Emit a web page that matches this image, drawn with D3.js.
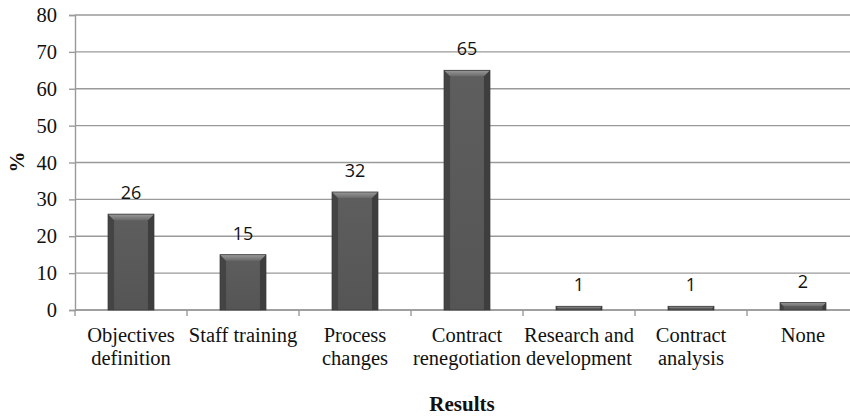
<!DOCTYPE html>
<html>
<head>
<meta charset="utf-8">
<script src="https://cdn.jsdelivr.net/npm/d3@7"></script>
<style>
  html, body { margin: 0; padding: 0; background: #fff; }
  svg { display: block; }
  .serif { font-family: "Liberation Serif", "Times New Roman", "DejaVu Serif", serif; }
  .sans { font-family: "Open Sans", "Liberation Sans", sans-serif; }
</style>
</head>
<body>
<svg id="chart" width="850" height="417"></svg>
<script>
// Results of the survey, share of respondents (%)
const categories = [
  ["Objectives", "definition"],
  ["Staff training"],
  ["Process", "changes"],
  ["Contract", "renegotiation"],
  ["Research and", "development"],
  ["Contract", "analysis"],
  ["None"]
];
const values = [26, 15, 32, 65, 1, 1, 2];
const yTicks = [0, 10, 20, 30, 40, 50, 60, 70, 80];

const svg = d3.select("#chart");
const plotLeft = 75, plotRight = 859, plotTop = 15, plotBottom = 310;

const x = d3.scaleBand()
  .domain(d3.range(categories.length))
  .range([plotLeft, plotRight])
  .paddingInner(0.59)
  .paddingOuter(0.295);
const band = d3.scaleBand().domain(d3.range(categories.length)).range([plotLeft, plotRight]);
const y = d3.scaleLinear().domain([0, 80]).range([plotBottom, plotTop]);

const defs = svg.append("defs");
const face = defs.append("linearGradient").attr("id", "barFace").attr("x1", 0).attr("x2", 0).attr("y1", 0).attr("y2", 1);
face.append("stop").attr("offset", "0%").attr("stop-color", "#5e5e5e");
face.append("stop").attr("offset", "100%").attr("stop-color", "#555555");
const topBevel = defs.append("linearGradient").attr("id", "barTop").attr("x1", 0).attr("x2", 0).attr("y1", 0).attr("y2", 1);
topBevel.append("stop").attr("offset", "0%").attr("stop-color", "#9a9a9a");
topBevel.append("stop").attr("offset", "100%").attr("stop-color", "#6a6a6a");

const gridColor = "#9a9a9a";

// horizontal gridlines
svg.append("g").selectAll("line").data(yTicks).join("line")
  .attr("x1", plotLeft).attr("x2", 850)
  .attr("y1", d => y(d)).attr("y2", d => y(d))
  .attr("stroke", gridColor).attr("stroke-width", 1.4);

// y axis
const yAxis = svg.append("g").attr("transform", `translate(${plotLeft},0)`)
  .call(d3.axisLeft(y).tickValues(yTicks).tickSize(6).tickPadding(12));
yAxis.attr("font-family", null).attr("font-size", null);
yAxis.select(".domain").attr("stroke", gridColor).attr("stroke-width", 1.4);
yAxis.selectAll(".tick line").attr("stroke", gridColor).attr("stroke-width", 1.4);
yAxis.selectAll(".tick text")
  .attr("class", "serif")
  .style("font-size", "20.5px").attr("fill", "#111");

// x axis with ticks on band boundaries
const xAxis = svg.append("g").attr("transform", `translate(0,${plotBottom})`);
xAxis.append("line").attr("x1", plotLeft).attr("x2", 850).attr("stroke", gridColor).attr("stroke-width", 1.4);
const boundaries = d3.range(categories.length + 1).map(i => i < categories.length ? band(i) : plotRight);
xAxis.selectAll("line.tick").data(boundaries).join("line").attr("class", "tick")
  .attr("x1", d => d).attr("x2", d => d).attr("y1", 0).attr("y2", 6)
  .attr("stroke", gridColor).attr("stroke-width", 1.4);

// category labels
const labels = svg.append("g").attr("class", "serif")
  .style("font-size", "20.5px").attr("fill", "#111").attr("text-anchor", "middle");
categories.forEach((lines, i) => {
  const cx = band(i) + band.bandwidth() / 2;
  const t = labels.append("text").attr("x", cx).attr("y", 342);
  lines.forEach((ln, j) => t.append("tspan").attr("x", cx).attr("dy", j === 0 ? 0 : 23).text(ln));
});

// bars with a bevelled look
const bars = svg.append("g");
values.forEach((v, i) => {
  const x0 = x(i), w = x.bandwidth(), y0 = y(v), h = plotBottom - y0;
  const b = Math.min(6, h / 2, w / 2);
  const grp = bars.append("g");
  grp.append("rect").attr("x", x0).attr("y", y0).attr("width", w).attr("height", h).attr("fill", "url(#barFace)");
  // left and right bevels
  grp.append("polygon")
    .attr("points", [[x0, y0], [x0 + b, y0 + b], [x0 + b, plotBottom], [x0, plotBottom]].join(" "))
    .attr("fill", "#444");
  grp.append("polygon")
    .attr("points", [[x0 + w, y0], [x0 + w - b, y0 + b], [x0 + w - b, plotBottom], [x0 + w, plotBottom]].join(" "))
    .attr("fill", "#3e3e3e");
  // top bevel
  grp.append("polygon")
    .attr("points", [[x0, y0], [x0 + w, y0], [x0 + w - b, y0 + b], [x0 + b, y0 + b]].join(" "))
    .attr("fill", "url(#barTop)");
  grp.append("rect").attr("x", x0).attr("y", y0).attr("width", w).attr("height", h)
    .attr("fill", "none").attr("stroke", "#3a3a3a").attr("stroke-width", 0.8);
});

// value labels
svg.append("g").selectAll("text").data(values).join("text")
  .attr("class", "sans")
  .attr("x", (d, i) => x(i) + x.bandwidth() / 2)
  .attr("y", d => y(d) - 15)
  .attr("text-anchor", "middle")
  .style("font-size", "18px").attr("fill", "#111")
  .text(d => d);

// axis titles
svg.append("text").attr("class", "serif").attr("x", 462).attr("y", 411).attr("text-anchor", "middle")
  .style("font-size", "21px").style("font-weight", "bold").attr("fill", "#111").text("Results");
svg.append("text").attr("class", "serif").attr("transform", "translate(24,162) rotate(-90)").attr("text-anchor", "middle")
  .style("font-size", "21px").style("font-weight", "bold").attr("fill", "#111").text("%");
</script>
</body>
</html>
